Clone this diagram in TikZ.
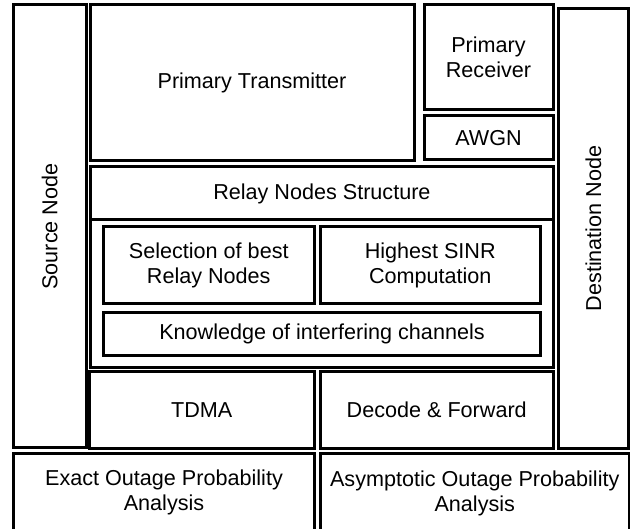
\documentclass[tikz,border=0pt]{standalone}
\usepackage{fontspec}
\setmainfont{Liberation Sans}
\begin{document}
\begin{tikzpicture}[x=1pt,y=-1pt,
  box/.style={draw=black,line width=3pt,fill=white,inner sep=0pt,outer sep=0pt,
    align=center,font=\fontsize{21.6}{25}\selectfont}]
\useasboundingbox (0,0) rectangle (630,529);
\clip (0,0) rectangle (630,529);
\fill[white] (0,0) rectangle (630,529);
\node[box,rotate=90,minimum width=443pt,minimum height=72.5pt] (src) at (49.75,226.5) {Source Node};
\node[box,minimum width=324pt,minimum height=155.5pt] (pt) at (252,82.75) {Primary Transmitter};
\node[box,minimum width=129pt,minimum height=104.5pt] (pr) at (488.5,57.25) {Primary\\Receiver};
\node[box,minimum width=129pt,minimum height=44.5pt] (awgn) at (488.5,137.75) {AWGN};
\node[box,minimum width=462.8pt,minimum height=200.5pt] (relay) at (321.9,267.25) {};
\node[box,minimum width=462.8pt,minimum height=53pt] (hdr) at (321.9,193.5) {Relay Nodes Structure};
\node[box,minimum width=210.5pt,minimum height=77pt] (sel) at (208.75,265.5) {Selection of best\\Relay Nodes};
\node[box,minimum width=220.5pt,minimum height=77pt] (sinr) at (430.25,265.5) {Highest SINR\\Computation};
\node[box,minimum width=437pt,minimum height=43.5pt] (know) at (322,334.25) {Knowledge of interfering channels};
\node[box,minimum width=224.5pt,minimum height=77pt] (tdma) at (201.75,410) {TDMA};
\node[box,minimum width=232.5pt,minimum height=76.5pt] (df) at (436.75,410.25) {Decode \& Forward};
\node[box,rotate=90,minimum width=440pt,minimum height=70pt] (dst) at (593.5,228.5) {Destination Node};
\node[box,minimum width=301pt,minimum height=78.5pt] (exact) at (164,492.75) {Exact Outage Probability\\Analysis};
\node[box,minimum width=308.5pt,minimum height=78pt] (asym) at (474.75,493) {Asymptotic Outage Probability\\Analysis};
\end{tikzpicture}
\end{document}
